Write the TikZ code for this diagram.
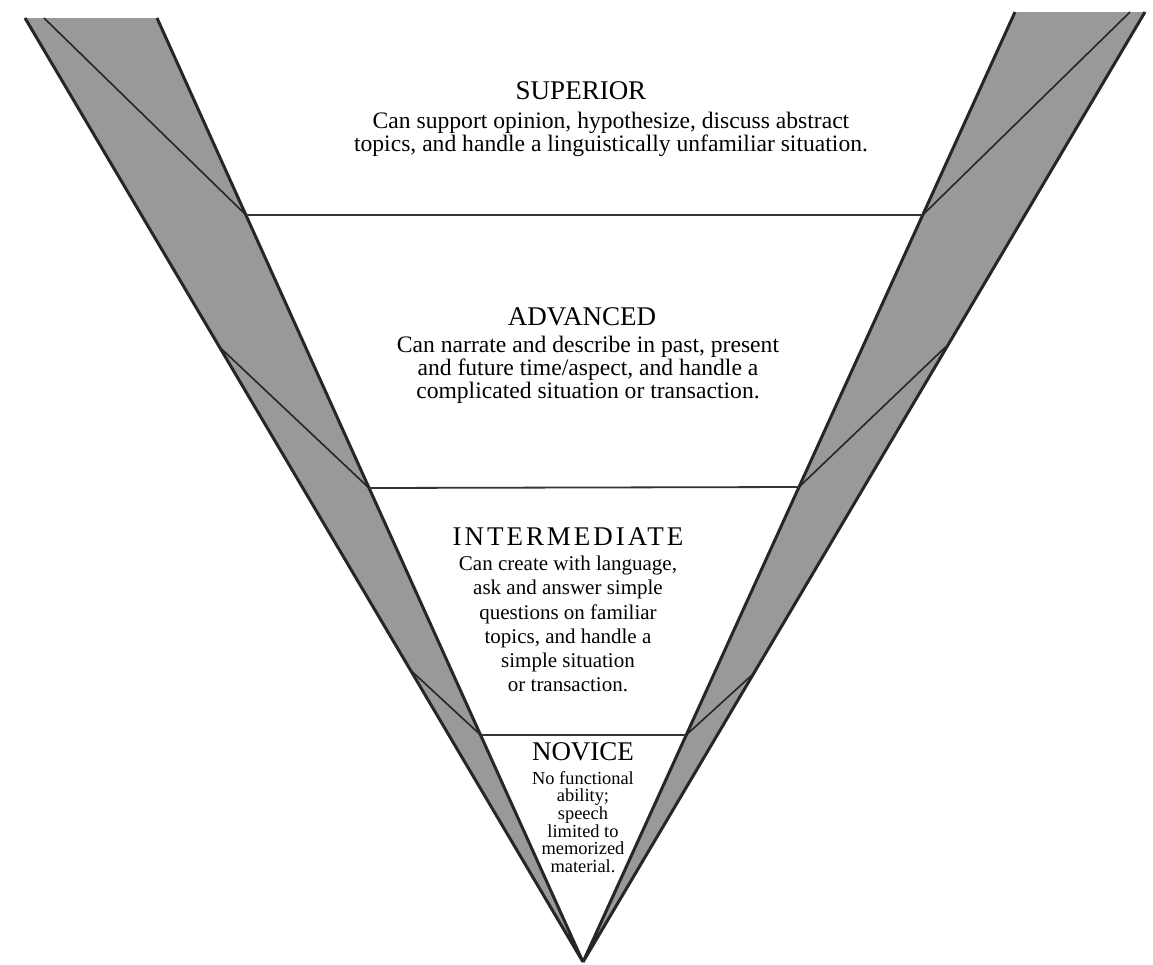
\documentclass[tikz,border=0pt]{standalone}
\usepackage{fontspec}
\setmainfont{Liberation Serif}
\begin{document}
\begin{tikzpicture}[x=0.5pt,y=-0.5pt,
  band/.style={fill=black!40,draw=none},
  edge/.style={line width=1.5pt,black!85},
  level/.style={line width=0.9pt,black!80},
  diag/.style={line width=0.8pt,black!85},
  ttl/.style={inner sep=0pt,font=\fontsize{13.5}{14}\selectfont},
  body/.style={inner sep=0pt,align=center,font=\fontsize{11.8}{11.4}\selectfont},
  small/.style={inner sep=0pt,align=center,font=\fontsize{9.2}{8.8}\selectfont}]
\useasboundingbox (0,0) rectangle (1153,965);
% key points
\coordinate (A) at (583,962);
\coordinate (LO) at (25,18);
\coordinate (LI) at (157,18);
\coordinate (RI) at (1015,12);
\coordinate (RO) at (1145,12);
% level points on inner edges
\coordinate (L1) at (246,215);
\coordinate (R1) at (922.7,215);
\coordinate (L2) at (369,488);
\coordinate (R2) at (799,487);
\coordinate (L3) at (480.6,735);
\coordinate (R3) at (686.2,735);
% diagonal start points
\coordinate (dL1) at (44,18);
\coordinate (dL2) at (219.5,347);
\coordinate (dL3) at (410.4,670);
\coordinate (dR1) at (1130,12);
\coordinate (dR2) at (945.5,347);
\coordinate (dR3) at (752,675);
% shaded bands
\fill[band] (LO) -- (LI) -- (A) -- cycle;
\fill[band] (RI) -- (RO) -- (A) -- cycle;
% edges
\draw[edge] (LO) -- (A) -- (LI);
\draw[edge] (RO) -- (A) -- (RI);
% diagonals
\draw[diag] (dL1) -- (L1);
\draw[diag] (dL2) -- (L2);
\draw[diag] (dL3) -- (L3);
\draw[diag] (dR1) -- (R1);
\draw[diag] (dR2) -- (R2);
\draw[diag] (dR3) -- (R3);
% level lines
\draw[level] (L1) -- (R1);
\draw[level] (L2) -- (R2);
\draw[level] (L3) -- (R3);
% texts
\node[ttl] (sup) at (581,91) {SUPERIOR};
\node[body] (supb) at (611,134) {Can support opinion, hypothesize, discuss abstract\\topics, and handle a linguistically unfamiliar situation.};
\node[ttl] (adv) at (582,317) {ADVANCED};
\node[body] (advb) at (588,370) {Can narrate and describe in past, present\\and future time/aspect, and handle a\\complicated situation or transaction.};
\node[ttl] (int) at (568,537) {\addfontfeature{LetterSpace=11}INTERMEDIATE};
\node[body,font=\fontsize{10.5}{12.1}\selectfont] (intb) at (568,624) {Can create with language,\\ask and answer simple\\questions on familiar\\topics, and handle a\\simple situation\\or transaction.};
\node[ttl] (nov) at (583,752) {NOVICE};
\node[small] (novb) at (583,822) {No functional\\ability;\\speech\\limited to\\memorized\\material.};
\end{tikzpicture}
\end{document}
